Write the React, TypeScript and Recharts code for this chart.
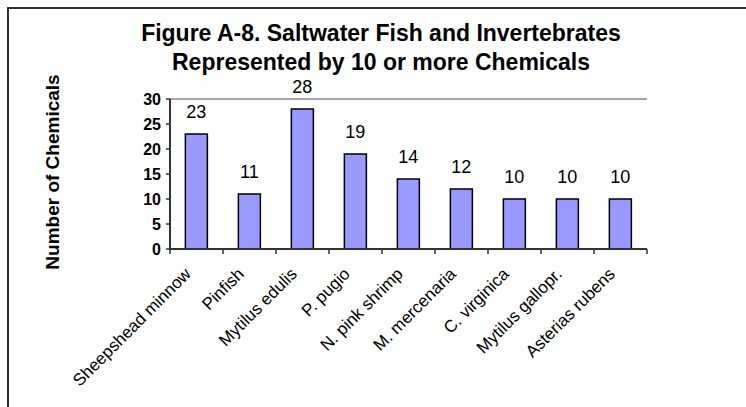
import React from 'react';
import { BarChart, Bar, XAxis, YAxis, LabelList, ReferenceLine } from 'recharts';

const categories = [
  'Sheepshead minnow',
  'Pinfish',
  'Mytilus edulis',
  'P. pugio',
  'N. pink shrimp',
  'M. mercenaria',
  'C. virginica',
  'Mytilus gallopr.',
  'Asterias rubens',
];
const chemicalCounts = [23, 11, 28, 19, 14, 12, 10, 10, 10];
const yTicks = [0, 5, 10, 15, 20, 25, 30];
const titleLines = ['Figure A-8. Saltwater Fish and Invertebrates', 'Represented by 10 or more Chemicals'];
const yAxisTitle = 'Number of Chemicals';

const data = categories.map((name, i) => ({ name, value: chemicalCounts[i] }));

const FONT = 'Arial, "Liberation Sans", sans-serif';
const PLOT_WIDTH = 477;
const BAND = PLOT_WIDTH / categories.length;

function XTick(props: any) {
  const { x, y, payload, index } = props;
  const left = x - BAND / 2;
  const right = x + BAND / 2;
  return (
    <g>
      <line x1={left} x2={left} y1={y} y2={y + 5} stroke="#333" strokeWidth={1.5} />
      {index === categories.length - 1 && (
        <line x1={right} x2={right} y1={y} y2={y + 5} stroke="#333" strokeWidth={1.5} />
      )}
      <text
        transform={`translate(${x - 4.5},${y + 26}) rotate(-45)`}
        textAnchor="end"
        fontFamily={FONT}
        fontSize={17}
        fill="#000"
      >
        {payload.value}
      </text>
    </g>
  );
}

export default function App() {
  return (
    <div style={{ position: 'absolute', left: 0, top: 0, width: 746, height: 407, overflow: 'hidden', background: '#fff' }}>
      <div
        style={{
          position: 'absolute',
          left: 7,
          top: 7,
          width: 800,
          height: 500,
          borderTop: '2px solid #333',
          borderLeft: '2px solid #333',
        }}
      />
      <div
        style={{
          position: 'absolute',
          left: 0,
          top: 19,
          width: 762,
          textAlign: 'center',
          fontFamily: FONT,
          fontWeight: 'bold',
          fontSize: 23,
          lineHeight: '29px',
          color: '#000',
        }}
      >
        {titleLines.map((t) => (
          <div key={t}>{t}</div>
        ))}
      </div>
      <div
        style={{
          position: 'absolute',
          left: 53,
          top: 172,
          transform: 'translate(-50%, -50%) rotate(-90deg)',
          whiteSpace: 'nowrap',
          fontFamily: FONT,
          fontWeight: 'bold',
          fontSize: 19,
          color: '#000',
        }}
      >
        {yAxisTitle}
      </div>
      <div style={{ position: 'absolute', left: 0, top: 0 }}>
        <BarChart
          width={746}
          height={407}
          data={data}
          margin={{ top: 99, right: 99, left: 110, bottom: 58 }}
          barCategoryGap="29%"
        >
          <XAxis
            dataKey="name"
            height={100}
            interval={0}
            tickSize={0}
            tickMargin={0}
            tickLine={false}
            axisLine={{ stroke: '#333', strokeWidth: 2 }}
            tick={<XTick />}
          />
          <YAxis
            yAxisId="left"
            width={60}
            domain={[0, 30]}
            ticks={yTicks}
            interval={0}
            tickSize={4}
            tickMargin={5}
            tickLine={{ stroke: '#333', strokeWidth: 1.5 }}
            axisLine={{ stroke: '#333', strokeWidth: 2 }}
            tick={{ fontFamily: FONT, fontWeight: 'bold', fontSize: 16, fill: '#000' }}
          />
          <YAxis
            yAxisId="right"
            orientation="right"
            width={0}
            domain={[0, 30]}
            tick={false}
            tickLine={false}
            axisLine={{ stroke: '#888', strokeWidth: 1.5 }}
          />
          <ReferenceLine yAxisId="left" y={30} stroke="#888" strokeWidth={1.5} />
          <Bar
            yAxisId="left"
            dataKey="value"
            fill="#9999FF"
            stroke="#000"
            strokeWidth={1.5}
            isAnimationActive={false}
          >
            <LabelList
              dataKey="value"
              position="top"
              offset={16}
              fontFamily={FONT}
              fontSize={18}
              fill="#000"
            />
          </Bar>
        </BarChart>
      </div>
    </div>
  );
}
